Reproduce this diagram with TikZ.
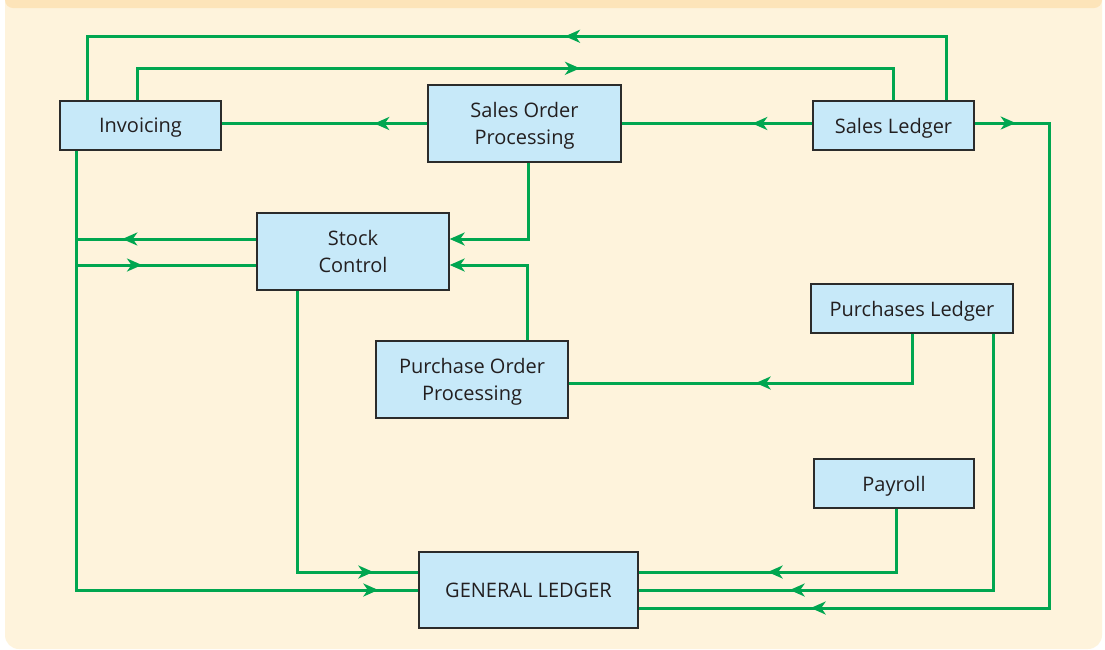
\documentclass[tikz,border=0pt]{standalone}
\usepackage{fontspec}
\setmainfont{Open Sans}
\usetikzlibrary{arrows.meta,decorations.markings}
\definecolor{cream}{HTML}{FEF3DC}
\definecolor{band}{HTML}{FDE4B9}
\definecolor{boxfill}{HTML}{C7E9F9}
\definecolor{boxline}{HTML}{2B2B2B}
\definecolor{lgreen}{HTML}{00A650}
\definecolor{txt}{HTML}{231F20}
\begin{document}
\begin{tikzpicture}[x=1pt,y=-1pt,
  box/.style={draw=boxline, line width=1.4pt, fill=boxfill, inner sep=0pt, align=center, text=txt, text depth=0pt, font=\fontsize{20}{26.5}\selectfont},
  flow/.style={lgreen, line width=3pt},
  endtip/.style={-{Stealth[length=15pt,width=13pt,inset=4.5pt]}},
  arrat/.style={postaction={decorate,decoration={markings,mark=at position #1 with {\arrow{Stealth[length=15pt,width=13pt,inset=4.5pt]}}}}}
]
\useasboundingbox (0,0) rectangle (1105,649);
\clip (0,0) rectangle (1105,649);
\fill[white] (0,0) rectangle (1105,649);
\fill[cream, rounded corners=14pt] (5,-30) rectangle (1102,649);
\fill[band, rounded corners=8pt] (5,-30) rectangle (1102,8);

\node[box, minimum width=161pt, minimum height=49pt] (inv) at (140.5,125.5) {Invoicing};
\node[box, minimum width=193pt, minimum height=77pt] (sop) at (524.5,123.5) {Sales Order\\Processing};
\node[box, minimum width=161pt, minimum height=49pt] (sl) at (893.5,125.5) {Sales Ledger};
\node[box, minimum width=192pt, minimum height=77pt] (stock) at (353,251.5) {Stock\\Control};
\node[box, minimum width=202pt, minimum height=49pt] (pl) at (912,308.5) {Purchases Ledger};
\node[box, minimum width=192pt, minimum height=77pt] (pop) at (472,379.5) {Purchase Order\\Processing};
\node[box, minimum width=160pt, minimum height=49pt] (pay) at (894,483.5) {Payroll};
\node[box, minimum width=219pt, minimum height=76pt] (gl) at (528.5,590) {GENERAL LEDGER};

\coordinate (invdown) at ([xshift=-64.5pt]inv.south);

\draw[flow, arrat=445pt] ([xshift=52.5pt]sl.north) -- ++(0,-64) -| ([xshift=-53.5pt]inv.north);
\draw[flow, arrat=475pt] ([xshift=-3.5pt]inv.north) -- ++(0,-32) -| (sl.north);
\draw[flow, arrat=53pt] (sop.west) -- (sop.west -| inv.east);
\draw[flow, arrat=60pt] (sop.east -| sl.west) -- (sop.east);
\draw[flow, endtip] ([xshift=3.5pt]sop.south) |- ([yshift=12.5pt]stock.east);
\draw[flow, arrat=134pt] ([yshift=12.5pt]stock.west) -- ([yshift=12.5pt]stock.west -| invdown);
\draw[flow, arrat=66pt] ([yshift=-13.5pt]stock.west -| invdown) -- ([yshift=-13.5pt]stock.west);
\draw[flow, arrat=-40pt] (invdown) |- (gl.west);
\draw[flow, arrat=-45pt] ([xshift=-56pt]stock.south) |- ([yshift=18pt]gl.west);
\draw[flow, endtip] ([xshift=55pt]pop.north) |- ([yshift=-13.5pt]stock.east);
\draw[flow, arrat=-187pt] (pl.south) |- ([yshift=-3.5pt]pop.east);
\draw[flow, arrat=-151pt] ([xshift=81pt]pl.south) |- (gl.east);
\draw[flow, arrat=-129pt] ([xshift=2pt]pay.south) |- ([yshift=18pt]gl.east);
\draw[flow, arrat=41pt, arrat=-172pt] ([yshift=2.5pt]sl.east) -- ++(75,0) |- ([yshift=-18pt]gl.east);
\end{tikzpicture}
\end{document}
